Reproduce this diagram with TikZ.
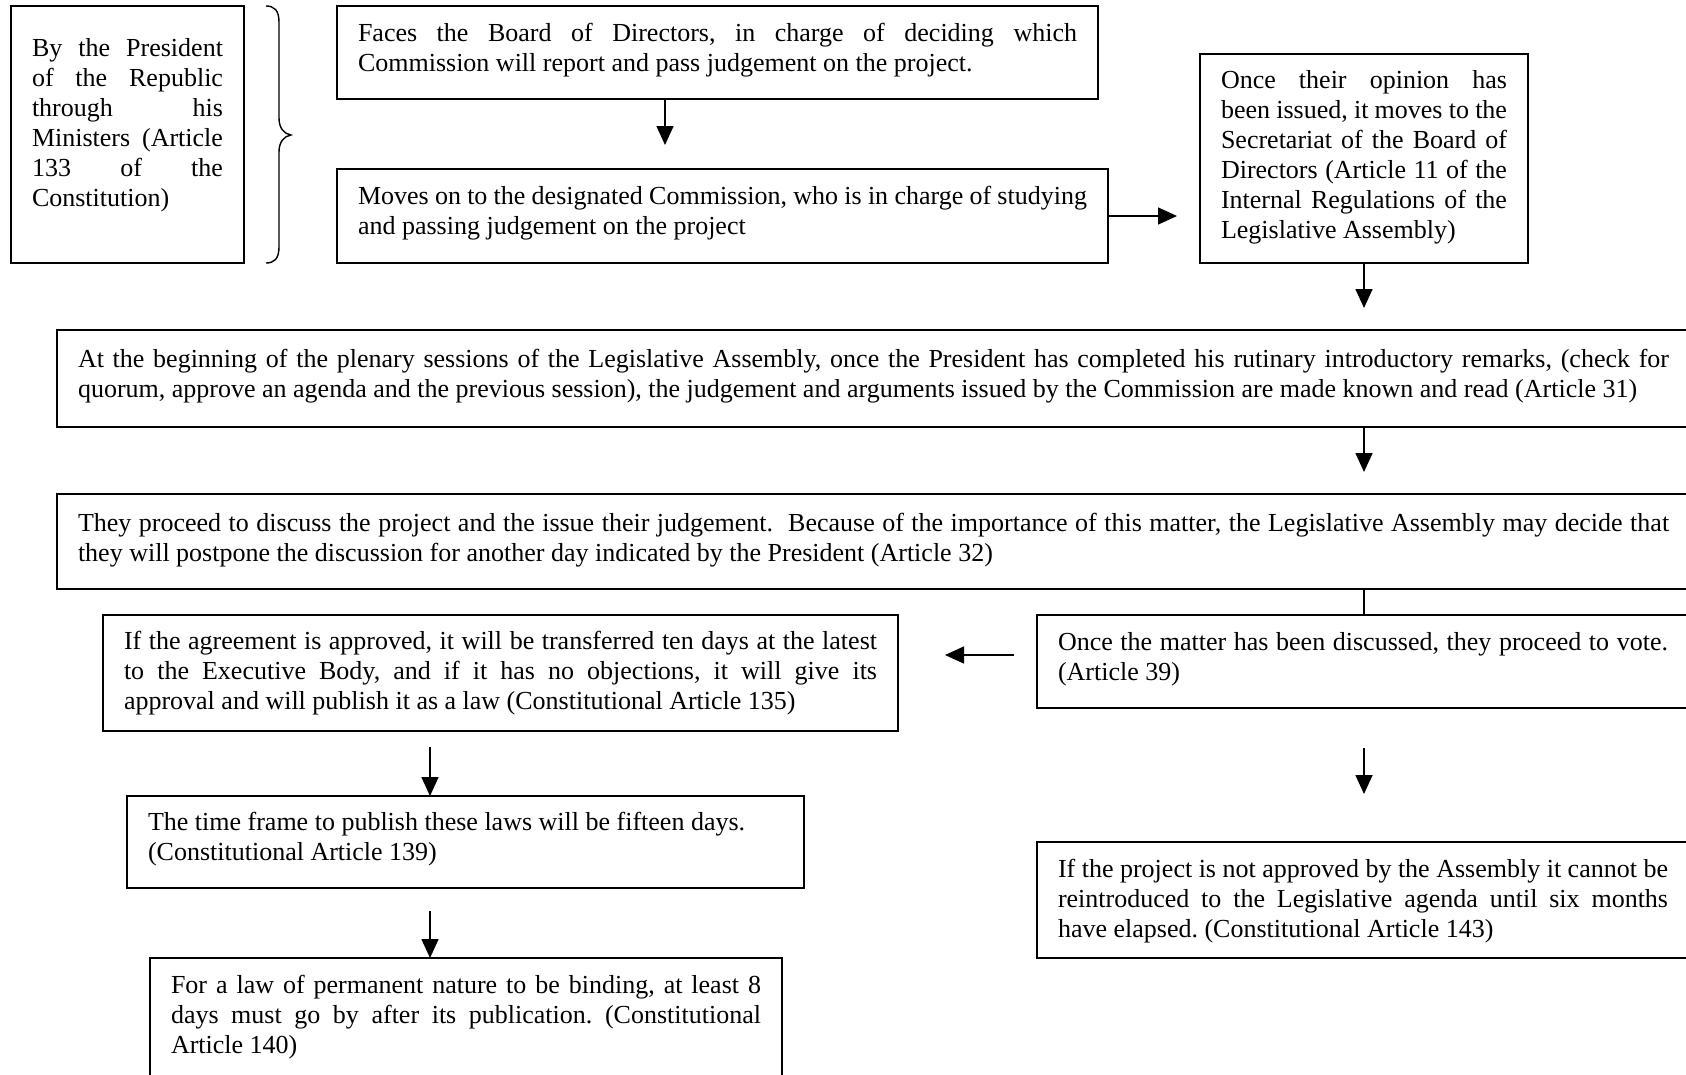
\documentclass[tikz,border=0pt]{standalone}
\usepackage{fontspec}
\setmainfont{Liberation Serif}
\usetikzlibrary{arrows.meta,calc}
\newcommand\boxfont{\fontsize{26pt}{30pt}\selectfont}
\begin{document}
\tolerance=9999 \hyphenpenalty=10000 \exhyphenpenalty=10000 \frenchspacing
\begin{tikzpicture}[x=1pt,y=-1pt,
  box/.style={draw, line width=1.7pt, inner xsep=21pt, inner ysep=0pt, outer sep=0pt,
    text height=35pt, align=justify, anchor=north west, font=\boxfont},
  arr/.style={line width=1.6pt, -{Triangle[length=19pt,width=17pt]}},
  plain/.style={line width=1.6pt}]
\useasboundingbox (0,0) rectangle (1686,1074);

\node[box, text width=191pt, text height=50pt, text depth=207pt] (P) at (11,6)
  {By the President\linebreak of the Republic\linebreak through his\linebreak Ministers (Article\linebreak 133 of the\linebreak Constitution)};

\draw[line width=1.4pt] (266,6) .. controls (274,6) and (279,10) .. (279,22) -- (279,118)
  .. controls (279,128) and (284,134) .. (291,135)
  .. controls (284,136) and (279,142) .. (279,152) -- (279,247)
  .. controls (279,259) and (274,263) .. (266,263);

\node[box, text width=719pt, text depth=58pt] (A) at (337,6)
  {Faces the Board of Directors, in charge of deciding which\linebreak Commission will report and pass judgement on the project.};

\node[box, text width=729pt, text depth=59pt] (B) at (337,169)
  {Moves on to the designated Commission, who is in charge of studying\linebreak and passing judgement on the project};

\node[box, text width=286pt, text height=34pt, text depth=175pt] (C) at (1200,54)
  {Once their opinion has\linebreak been issued, it moves to the\linebreak Secretariat of the Board of\linebreak Directors (Article 11 of the\linebreak Internal Regulations of the\linebreak Legislative Assembly)};

\node[box, text width=1591pt, text height=37pt, text depth=60pt] (D) at (57,330)
  {At the beginning of the plenary sessions of the Legislative Assembly, once the President has completed his rutinary introductory remarks, (check for\linebreak quorum, approve an agenda and the previous session), the judgement and arguments issued by the Commission are made known and read (Article 31)};

\node[box, text width=1591pt, text height=37pt, text depth=58pt] (E) at (57,494)
  {They proceed to discuss the project and the issue their judgement.\ \ Because of the importance of this matter, the Legislative Assembly may decide that\linebreak they will postpone the discussion for another day indicated by the President (Article 32)};

\node[box, text width=610pt, text depth=58pt] (F) at (1037,615)
  {Once the matter has been discussed, they proceed to vote.\linebreak (Article 39)};

\node[box, text width=753pt, text height=34pt, text depth=82pt] (G) at (103,615)
  {If the agreement is approved, it will be transferred ten days at the latest\linebreak to the Executive Body, and if it has no objections, it will give its\linebreak approval and will publish it as a law (Constitutional Article 135)};

\node[box, text width=635pt, text height=34pt, text depth=58pt] (H) at (127,796)
  {The time frame to publish these laws will be fifteen days.\par (Constitutional Article 139)};

\node[box, draw=none, text width=590pt, text height=35pt, text depth=160pt] (I) at (150,958)
  {For a law of permanent nature to be binding, at least 8\linebreak days must go by after its publication. (Constitutional\linebreak Article 140)};
\draw[line width=1.7pt] (I.south west) -- (I.north west) -- (I.north east) -- (I.south east);

\node[box, text width=610pt, text depth=81pt] (J) at (1037,842)
  {If the project is not approved by the Assembly it cannot be\linebreak reintroduced to the Legislative agenda until six months\linebreak have elapsed. (Constitutional Article 143)};

\draw[arr, shorten >=24pt] ([xshift=328pt]A.south west) -- ([xshift=328pt]B.north west);
\draw[arr, shorten >=23pt] (B.east) -- (B.east -| C.west);
\draw[arr, shorten >=22pt] (C.south) -- (C.south |- D.north);
\draw[arr, shorten >=22pt] (C.south |- D.south) -- (C.south |- E.north);
\draw[plain] (C.south |- E.south) -- (C.south |- F.north);
\draw[arr, shorten <=23pt, shorten >=47pt] ([yshift=-40pt]F.north west) -- ([yshift=-40pt]G.north east);
\draw[arr, shorten <=16pt] ([xshift=327pt]G.south west) -- ([xshift=303pt]H.north west);
\draw[arr, shorten <=23pt] ([xshift=303pt]H.south west) -- ([xshift=280pt]I.north west);
\draw[arr, shorten <=40pt, shorten >=48pt] (C.south |- F.south) -- (C.south |- J.north);
\end{tikzpicture}
\end{document}
